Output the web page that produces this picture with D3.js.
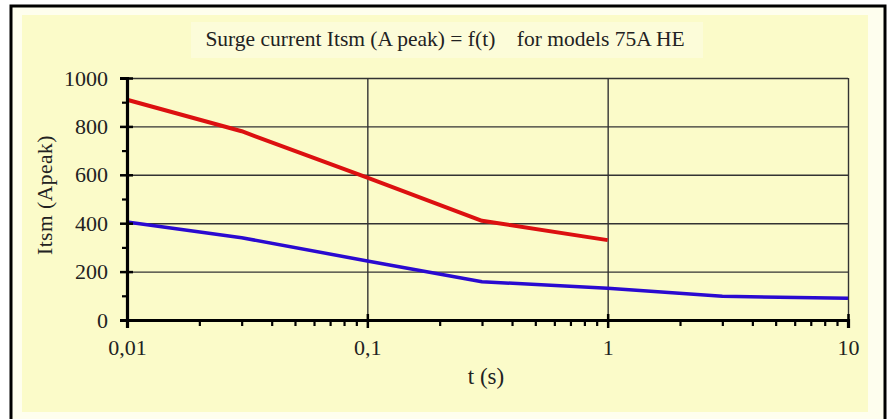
<!DOCTYPE html>
<html>
<head>
<meta charset="utf-8">
<script src="https://cdn.jsdelivr.net/npm/d3@7"></script>
<style>
  html, body { margin: 0; padding: 0; background: #ffffff; }
  svg { display: block; }
  text { font-family: "Liberation Serif", "Times New Roman", serif; fill: #222; }
</style>
</head>
<body>
<svg id="chart" width="891" height="419"></svg>
<script>
// ---- Data ----
const times = [0.01, 0.03, 0.1, 0.3, 1, 3, 10];
const redSeries = [910, 780, 588, 410, 330];          // upper curve (0.01 .. 1 s)
const blueSeries = [405, 340, 244, 158, 131, 98, 90]; // lower curve (0.01 .. 10 s)
const yTicks = [0, 200, 400, 600, 800, 1000];
const yMinorTicks = [100, 300, 500, 700, 900];
const xTicks = [0.01, 0.1, 1, 10];
const xTickLabels = ["0,01", "0,1", "1", "10"];
const titleText = "Surge current Itsm (A peak) = f(t)    for models 75A HE";
const xTitle = "t (s)";
const yTitle = "Itsm (Apeak)";

// ---- Layout ----
const svg = d3.select("#chart");
const W = 891, H = 419;
const plot = { left: 127, right: 848, top: 78, bottom: 320 };

// backgrounds / frame
svg.append("rect").attr("x", 0).attr("y", 0).attr("width", W).attr("height", H).attr("fill", "#ffffff");
svg.append("rect").attr("x", 11).attr("y", 6).attr("width", 874).attr("height", 420)
  .attr("fill", "#fefeee").attr("stroke", "#000").attr("stroke-width", 3);
svg.append("rect").attr("x", 22).attr("y", 15).attr("width", 846).attr("height", 397)
  .attr("fill", "#fbfbc9");
// title backdrop (subtle)
svg.append("rect").attr("x", 191).attr("y", 22).attr("width", 512).attr("height", 36)
  .attr("fill", "#fcfcd9");

const x = d3.scaleLog().domain([0.01, 10]).range([plot.left, plot.right]);
const y = d3.scaleLinear().domain([0, 1000]).range([plot.bottom, plot.top]);

// grid lines
const gridY = svg.append("g").attr("transform", `translate(${plot.left},0)`)
  .call(d3.axisLeft(y).tickValues(yTicks.slice(1)).tickSize(-(plot.right - plot.left)).tickFormat(""));
gridY.select(".domain").remove();
gridY.selectAll("line").attr("stroke", "#333").attr("stroke-width", 1.4);

const gridX = svg.append("g").attr("transform", `translate(0,${plot.bottom})`)
  .call(d3.axisBottom(x).tickValues(xTicks.slice(1)).tickSize(-(plot.bottom - plot.top)).tickFormat(""));
gridX.select(".domain").remove();
gridX.selectAll("line").attr("stroke", "#333").attr("stroke-width", 1.4);

// series lines
const lineGen = d3.line().x(d => x(d[0])).y(d => y(d[1]));
svg.append("path")
  .datum(blueSeries.map((v, i) => [times[i], v]))
  .attr("d", lineGen).attr("fill", "none")
  .attr("stroke", "#2a0ad0").attr("stroke-width", 3.5).attr("stroke-linejoin", "round");
svg.append("path")
  .datum(redSeries.map((v, i) => [times[i], v]))
  .attr("d", lineGen).attr("fill", "none")
  .attr("stroke", "#dc1010").attr("stroke-width", 4).attr("stroke-linejoin", "round");

// Y axis
const yAxis = svg.append("g").attr("transform", `translate(${plot.left},0)`)
  .call(d3.axisLeft(y).tickValues(yTicks).tickSize(7).tickPadding(12).tickFormat(d3.format("d")));
yAxis.select(".domain").attr("stroke", "#000").attr("stroke-width", 3.2);
yAxis.selectAll("line").attr("stroke", "#000").attr("stroke-width", 2.5);
yAxis.selectAll("text").style("font-size", "22px").style("font-family", "'Liberation Serif', serif").attr("fill", "#222");
const yAxisR = svg.append("g").attr("transform", `translate(${plot.left},0)`)
  .call(d3.axisRight(y).tickValues(yTicks).tickSize(6).tickFormat(""));
yAxisR.select(".domain").remove();
yAxisR.selectAll("line").attr("stroke", "#000").attr("stroke-width", 2.5);
const yMinor = svg.append("g").attr("transform", `translate(${plot.left},0)`)
  .call(d3.axisLeft(y).tickValues(yMinorTicks).tickSize(5).tickFormat(""));
yMinor.select(".domain").remove();
yMinor.selectAll("line").attr("stroke", "#000").attr("stroke-width", 2.2);

// X axis
const xMinorVals = [];
[0.01, 0.1, 1].forEach(dec => { for (let k = 2; k <= 9; k++) xMinorVals.push(dec * k); });
const xMinor = svg.append("g").attr("transform", `translate(0,${plot.bottom})`)
  .call(d3.axisBottom(x).tickValues(xMinorVals).tickSize(6).tickFormat(""));
xMinor.select(".domain").remove();
xMinor.selectAll("line").attr("stroke", "#000").attr("stroke-width", 2.2);
const xAxis = svg.append("g").attr("transform", `translate(0,${plot.bottom})`)
  .call(d3.axisBottom(x).tickValues(xTicks).tickSize(8).tickPadding(11)
    .tickFormat((d, i) => xTickLabels[i]));
xAxis.select(".domain").attr("stroke", "#000").attr("stroke-width", 3.2);
xAxis.selectAll("line").attr("stroke", "#000").attr("stroke-width", 2.5);
xAxis.selectAll("text").style("font-size", "22px").style("font-family", "'Liberation Serif', serif").attr("fill", "#222");
const xAxisUp = svg.append("g").attr("transform", `translate(0,${plot.bottom})`)
  .call(d3.axisTop(x).tickValues(xTicks).tickSize(6).tickFormat(""));
xAxisUp.select(".domain").remove();
xAxisUp.selectAll("line").attr("stroke", "#000").attr("stroke-width", 2.5);

// titles
svg.append("text").attr("x", 445).attr("y", 46).attr("text-anchor", "middle")
  .style("font-size", "21.5px").style("white-space", "pre").text(titleText);
svg.append("text").attr("x", 486).attr("y", 384).attr("text-anchor", "middle")
  .style("font-size", "23px").text(xTitle);
svg.append("text").attr("transform", "translate(52,195) rotate(-90)").attr("text-anchor", "middle")
  .style("font-size", "21.5px").style("letter-spacing", "0.5px").text(yTitle);
</script>
</body>
</html>
